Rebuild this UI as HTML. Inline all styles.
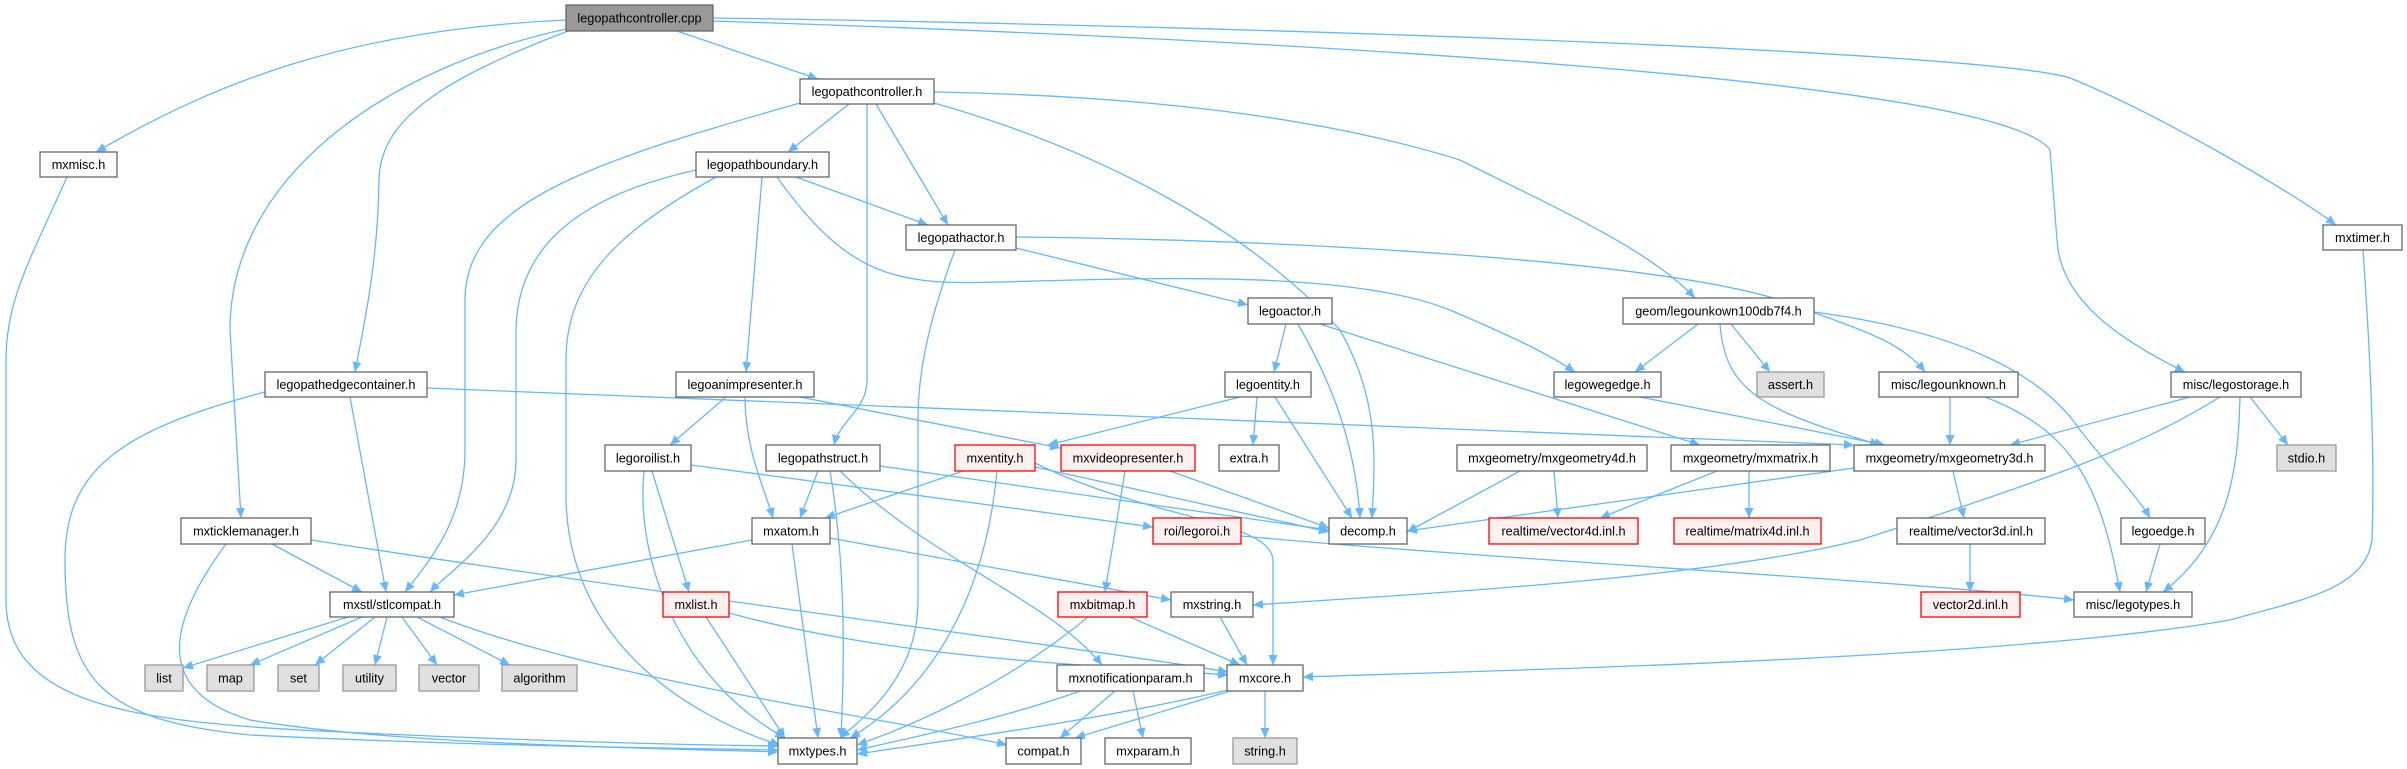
<!DOCTYPE html>
<html><head><meta charset="utf-8"><style>
html,body{margin:0;padding:0;background:#fff;}
svg{display:block;}
text{font-family:"Liberation Sans",Arial,sans-serif;font-size:12.7px;fill:#000;text-anchor:middle;}
.e{fill:none;stroke:#63b8ff;stroke-width:1.3;marker-end:url(#a);}
.n{fill:#fff;stroke:#666;stroke-width:1.3;}
.r{fill:#fff0f0;stroke:#ff0000;stroke-width:1.3;}
.g{fill:#e0e0e0;stroke:#999;stroke-width:1.3;}
.root{fill:#999;stroke:#666;stroke-width:1.3;}
</style></head><body>
<svg width="2407" height="769" viewBox="0 0 2407 769" xmlns="http://www.w3.org/2000/svg">
<defs><marker id="a" markerUnits="userSpaceOnUse" markerWidth="11" markerHeight="9" refX="10" refY="4.5" orient="auto"><path d="M0,0 L10,4.5 L0,9 z" fill="#63b8ff"/></marker></defs>
<g>
<path class="e" d="M677,31 L818,79"/>
<path class="e" d="M566,20 C350,30 220,80 96,152"/>
<path class="e" d="M566,29 C380,70 230,180 230,330 L241,518"/>
<path class="e" d="M568,31 C440,80 380,120 379,180 C378,260 365,320 355,372"/>
<path class="e" d="M713,18 C1200,25 1980,50 2070,78 C2150,110 2290,190 2336,225"/>
<path class="e" d="M713,21 C1300,40 2000,80 2050,150 L2057,240 C2060,300 2120,340 2185,372"/>
<path class="e" d="M849,104 L788,152"/>
<path class="e" d="M876,104 L948,225"/>
<path class="e" d="M800,103 C600,160 465,200 465,300 L465,450 C465,520 430,560 405,592"/>
<path class="e" d="M867,104 L867,380 C867,410 840,420 834,445"/>
<path class="e" d="M934,103 C1100,150 1250,230 1340,330 C1380,400 1375,460 1372,518"/>
<path class="e" d="M934,92 C1100,95 1300,110 1460,160 C1560,210 1650,250 1695,298"/>
<path class="e" d="M796,177 L928,225"/>
<path class="e" d="M762,177 L746,372"/>
<path class="e" d="M696,170 C560,200 517,260 516,330 L516,460 C516,530 450,570 430,592"/>
<path class="e" d="M716,177 C620,230 566,280 566,360 L566,500 C570,650 700,720 780,745"/>
<path class="e" d="M777,177 C850,280 900,285 1000,282 C1150,278 1350,270 1450,310 C1520,340 1550,355 1575,372"/>
<path class="e" d="M1016,248 L1248,305"/>
<path class="e" d="M1016,237 C1300,240 1650,260 1780,300 C1860,330 1900,340 1925,372"/>
<path class="e" d="M955,250 C925,330 918,380 918,420 L918,600 C918,680 860,720 840,738"/>
<path class="e" d="M1286,324 L1274,372"/>
<path class="e" d="M1298,324 C1330,380 1355,440 1360,518"/>
<path class="e" d="M1320,324 L1700,445"/>
<path class="e" d="M1698,324 L1635,372"/>
<path class="e" d="M1731,324 L1770,372"/>
<path class="e" d="M1720,324 C1725,390 1760,410 1880,445"/>
<path class="e" d="M1814,312 C1950,330 2040,370 2080,430 C2120,480 2140,500 2150,518"/>
<path class="e" d="M1240,397 L1048,445"/>
<path class="e" d="M1257,397 L1253,445"/>
<path class="e" d="M1275,397 L1352,518"/>
<path class="e" d="M1640,397 L1885,445"/>
<path class="e" d="M1950,397 L1950,445"/>
<path class="e" d="M1985,397 C2070,430 2100,480 2120,592"/>
<path class="e" d="M2190,397 L2010,445"/>
<path class="e" d="M2250,397 L2288,445"/>
<path class="e" d="M2240,397 C2238,470 2230,540 2163,592"/>
<path class="e" d="M2220,397 C2150,440 2080,470 1860,540 C1700,580 1400,595 1253,605"/>
<path class="e" d="M350,397 L386,592"/>
<path class="e" d="M427,388 C800,400 1300,420 1854,445"/>
<path class="e" d="M265,392 C120,430 65,470 65,560 C65,680 100,720 250,735 C450,745 650,748 778,750"/>
<path class="e" d="M67,177 C30,260 6,300 6,360 L6,600 C6,700 120,720 300,730 C500,740 680,745 778,746"/>
<path class="e" d="M726,397 L670,445"/>
<path class="e" d="M745,397 C745,450 765,490 773,518"/>
<path class="e" d="M800,397 L1060,448"/>
<path class="e" d="M691,465 L1153,527"/>
<path class="e" d="M652,471 L689,592"/>
<path class="e" d="M644,471 C635,560 680,680 785,738"/>
<path class="e" d="M818,471 L800,518"/>
<path class="e" d="M880,466 L1329,530"/>
<path class="e" d="M830,471 C845,560 845,650 841,738"/>
<path class="e" d="M840,471 C930,560 1050,600 1102,665"/>
<path class="e" d="M963,471 L825,518"/>
<path class="e" d="M997,471 C985,600 930,690 850,738"/>
<path class="e" d="M1035,467 L1329,532"/>
<path class="e" d="M1035,463 C1150,520 1270,520 1273,560 L1273,665"/>
<path class="e" d="M1125,471 L1105,592"/>
<path class="e" d="M1170,471 L1329,528"/>
<path class="e" d="M1520,471 L1407,532"/>
<path class="e" d="M1554,471 L1558,518"/>
<path class="e" d="M1717,471 L1600,518"/>
<path class="e" d="M1749,471 L1749,518"/>
<path class="e" d="M1854,468 L1407,531"/>
<path class="e" d="M1953,471 L1964,518"/>
<path class="e" d="M1241,536 C1500,560 1900,580 2074,600"/>
<path class="e" d="M1970,544 L1970,592"/>
<path class="e" d="M2160,544 L2146,592"/>
<path class="e" d="M272,544 L362,592"/>
<path class="e" d="M226,544 C170,620 150,690 250,720 C400,745 650,748 778,752"/>
<path class="e" d="M311,540 C700,600 1100,650 1228,672"/>
<path class="e" d="M752,540 L454,595"/>
<path class="e" d="M830,538 L1171,600"/>
<path class="e" d="M792,544 L818,738"/>
<path class="e" d="M348,617 L183,668"/>
<path class="e" d="M362,617 L250,665"/>
<path class="e" d="M375,617 L315,665"/>
<path class="e" d="M387,617 L375,665"/>
<path class="e" d="M402,617 L437,665"/>
<path class="e" d="M417,617 L510,665"/>
<path class="e" d="M440,617 C600,680 900,720 1007,745"/>
<path class="e" d="M706,617 L785,738"/>
<path class="e" d="M729,613 C900,660 1100,665 1228,675"/>
<path class="e" d="M1088,617 C1000,690 900,730 857,745"/>
<path class="e" d="M1130,617 L1240,665"/>
<path class="e" d="M1220,617 L1247,665"/>
<path class="e" d="M1080,691 C1000,720 900,740 857,750"/>
<path class="e" d="M1115,691 L1060,738"/>
<path class="e" d="M1133,691 L1143,738"/>
<path class="e" d="M1228,690 C1100,720 950,740 857,754"/>
<path class="e" d="M1230,691 L1075,738"/>
<path class="e" d="M1265,691 L1265,738"/>
<path class="e" d="M2363,250 C2370,350 2375,450 2372,540 C2365,590 2300,600 2230,620 C2000,660 1500,670 1303,677"/>
</g>
<g>
<rect class="root" x="566" y="5" width="147" height="26"/><text x="639.5" y="22.5">legopathcontroller.cpp</text>
<rect class="n" x="800" y="79" width="134" height="25"/><text x="867" y="96">legopathcontroller.h</text>
<rect class="n" x="40" y="152" width="77" height="25"/><text x="78.5" y="169">mxmisc.h</text>
<rect class="n" x="696" y="152" width="133" height="25"/><text x="762.5" y="169">legopathboundary.h</text>
<rect class="n" x="906" y="225" width="110" height="25"/><text x="961" y="242">legopathactor.h</text>
<rect class="n" x="2323" y="225" width="79" height="25"/><text x="2362.5" y="242">mxtimer.h</text>
<rect class="n" x="1248" y="298" width="84" height="26"/><text x="1290" y="315.5">legoactor.h</text>
<rect class="n" x="1623" y="298" width="191" height="26"/><text x="1718.5" y="315.5">geom/legounkown100db7f4.h</text>
<rect class="n" x="265" y="372" width="162" height="25"/><text x="346" y="389">legopathedgecontainer.h</text>
<rect class="n" x="676" y="372" width="138" height="25"/><text x="745" y="389">legoanimpresenter.h</text>
<rect class="n" x="1225" y="372" width="86" height="25"/><text x="1268" y="389">legoentity.h</text>
<rect class="n" x="1554" y="372" width="107" height="25"/><text x="1607.5" y="389">legowegedge.h</text>
<rect class="g" x="1757" y="372" width="67" height="25"/><text x="1790.5" y="389">assert.h</text>
<rect class="n" x="1879" y="372" width="139" height="25"/><text x="1948.5" y="389">misc/legounknown.h</text>
<rect class="n" x="2171" y="372" width="130" height="25"/><text x="2236" y="389">misc/legostorage.h</text>
<rect class="n" x="605" y="445" width="86" height="26"/><text x="648" y="462.5">legoroilist.h</text>
<rect class="n" x="766" y="445" width="114" height="26"/><text x="823" y="462.5">legopathstruct.h</text>
<rect class="r" x="955" y="445" width="80" height="26"/><text x="995" y="462.5">mxentity.h</text>
<rect class="r" x="1061" y="445" width="134" height="26"/><text x="1128" y="462.5">mxvideopresenter.h</text>
<rect class="n" x="1219" y="445" width="60" height="26"/><text x="1249" y="462.5">extra.h</text>
<rect class="n" x="1457" y="445" width="190" height="26"/><text x="1552" y="462.5">mxgeometry/mxgeometry4d.h</text>
<rect class="n" x="1671" y="445" width="159" height="26"/><text x="1750.5" y="462.5">mxgeometry/mxmatrix.h</text>
<rect class="n" x="1854" y="445" width="191" height="26"/><text x="1949.5" y="462.5">mxgeometry/mxgeometry3d.h</text>
<rect class="g" x="2277" y="445" width="59" height="26"/><text x="2306.5" y="462.5">stdio.h</text>
<rect class="n" x="181" y="518" width="130" height="26"/><text x="246" y="535.5">mxticklemanager.h</text>
<rect class="n" x="752" y="518" width="78" height="26"/><text x="791" y="535.5">mxatom.h</text>
<rect class="r" x="1153" y="518" width="88" height="26"/><text x="1197" y="535.5">roi/legoroi.h</text>
<rect class="n" x="1329" y="518" width="78" height="26"/><text x="1368" y="535.5">decomp.h</text>
<rect class="r" x="1489" y="518" width="149" height="26"/><text x="1563.5" y="535.5">realtime/vector4d.inl.h</text>
<rect class="r" x="1674" y="518" width="147" height="26"/><text x="1747.5" y="535.5">realtime/matrix4d.inl.h</text>
<rect class="n" x="1897" y="518" width="148" height="26"/><text x="1971" y="535.5">realtime/vector3d.inl.h</text>
<rect class="n" x="2121" y="518" width="84" height="26"/><text x="2163" y="535.5">legoedge.h</text>
<rect class="n" x="330" y="592" width="124" height="25"/><text x="392" y="609">mxstl/stlcompat.h</text>
<rect class="r" x="663" y="592" width="66" height="25"/><text x="696" y="609">mxlist.h</text>
<rect class="r" x="1058" y="592" width="89" height="25"/><text x="1102.5" y="609">mxbitmap.h</text>
<rect class="n" x="1171" y="592" width="82" height="25"/><text x="1212" y="609">mxstring.h</text>
<rect class="r" x="1921" y="592" width="99" height="25"/><text x="1970.5" y="609">vector2d.inl.h</text>
<rect class="n" x="2074" y="592" width="118" height="25"/><text x="2133" y="609">misc/legotypes.h</text>
<rect class="g" x="145" y="665" width="38" height="26"/><text x="164" y="682.5">list</text>
<rect class="g" x="207" y="665" width="47" height="26"/><text x="230.5" y="682.5">map</text>
<rect class="g" x="278" y="665" width="41" height="26"/><text x="298.5" y="682.5">set</text>
<rect class="g" x="343" y="665" width="53" height="26"/><text x="369.5" y="682.5">utility</text>
<rect class="g" x="419" y="665" width="60" height="26"/><text x="449" y="682.5">vector</text>
<rect class="g" x="502" y="665" width="75" height="26"/><text x="539.5" y="682.5">algorithm</text>
<rect class="n" x="1057" y="665" width="147" height="26"/><text x="1130.5" y="682.5">mxnotificationparam.h</text>
<rect class="n" x="1227" y="665" width="76" height="26"/><text x="1265" y="682.5">mxcore.h</text>
<rect class="n" x="778" y="738" width="79" height="26"/><text x="817.5" y="755.5">mxtypes.h</text>
<rect class="n" x="1006" y="738" width="75" height="26"/><text x="1043.5" y="755.5">compat.h</text>
<rect class="n" x="1105" y="738" width="86" height="26"/><text x="1148" y="755.5">mxparam.h</text>
<rect class="g" x="1233" y="738" width="64" height="26"/><text x="1265" y="755.5">string.h</text>
</g>
</svg>
</body></html>
